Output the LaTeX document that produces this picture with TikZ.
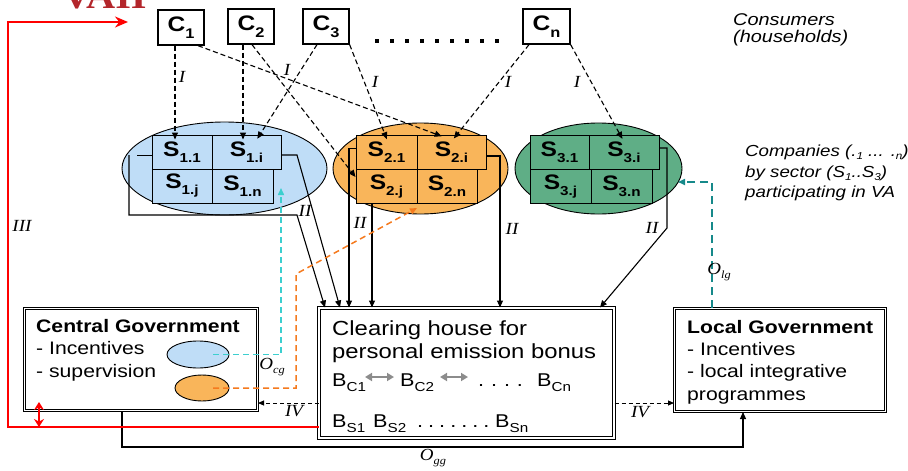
\documentclass[tikz,border=0pt]{standalone}
\usepackage{fontspec}
\setmainfont[FakeStretch=1.17]{Liberation Sans}
\newfontfamily\labelserif[FakeStretch=1.12]{Liberation Serif}
\usetikzlibrary{arrows.meta,calc,shapes.geometric}

\definecolor{sectorblue}{HTML}{BFDDF7}
\definecolor{sectororange}{HTML}{F9B55A}
\definecolor{sectorgreen}{HTML}{5FAE86}
\definecolor{linkcyan}{HTML}{3CCFCF}
\definecolor{linkorange}{HTML}{F57A1E}
\definecolor{linkteal}{HTML}{16898A}
\definecolor{headred}{HTML}{B3262B}
\definecolor{bonusgray}{HTML}{8C8C8C}

\newcommand\fs[1]{\fontsize{#1}{#1}\selectfont}
\newcommand\csub[1]{\raisebox{-7pt}{\fs{14}\bfseries #1}}
\newcommand\ssub[1]{\raisebox{-6pt}{\fs{13}\bfseries #1}}
\newcommand\bsub[1]{\raisebox{-5.5pt}{\fs{13}#1}}
\newcommand\osub[1]{\raisebox{-4pt}{\fs{11}#1}}
\newcommand\tsub[1]{\raisebox{-3pt}{\fs{10}#1}}

\tikzset{
  conbox/.style={draw, line width=1.3pt, minimum width=46pt, minimum height=35pt, inner sep=0pt, font=\fs{21}\bfseries},
  sectorcell/.style={draw, line width=1pt, minimum height=34pt, inner sep=0pt, font=\fs{21}\bfseries},
  sectorset/.style={ellipse, draw, line width=0.9pt, inner sep=0pt},
  govbox/.style={draw, line width=1pt, double, double distance=1.5pt, inner sep=0pt},
  txt/.style={inner sep=0pt, anchor=base west},
  numlbl/.style={inner sep=0pt, font=\labelserif\itshape\fs{17}},
  tipb/.style={-{Triangle[length=7pt,width=6pt]}},
  ilink/.style={tipb, line width=1.1pt, dash pattern=on 5pt off 3pt, shorten >=-5pt},
  solidflow/.style={tipb, line width=1.1pt},
  ivlink/.style={-{Triangle[length=6pt,width=5pt]}, line width=1pt, dash pattern=on 4pt off 3pt},
  bonusarrow/.style={bonusgray, line width=2.5pt, {Triangle[length=7pt,width=8pt]}-{Triangle[length=7pt,width=8pt]}},
}

\begin{document}
\begin{tikzpicture}[x=1pt,y=-1pt]
\useasboundingbox (0,0) rectangle (908,471);

% heading, mostly above the page
\node[txt, text=headred, font=\labelserif\bfseries\fs{36}] (heading) at (62,8.5) {VAII};

% consumers
\node[conbox] (c1) at (181,27.5) {C\csub{1}};
\node[conbox] (c2) at (251,26.5) {C\csub{2}};
\node[conbox] (c3) at (326,26.5) {C\csub{3}};
\node[conbox, minimum width=47pt] (cn) at (546.5,26.5) {C\csub{n}};
\coordinate (dotsL) at (375,41);
\coordinate (dotsR) at (500,41);
\draw[line width=3.5pt, dash pattern=on 3.5pt off 11.5pt] (dotsL) -- (dotsR);

\node[txt, font=\itshape\fs{17}] (cons1) at (733,25) {Consumers};
\node[txt, font=\itshape\fs{17}] (cons2) at (733,42) {(households)};

% sectors
\node[sectorset, fill=sectorblue, minimum width=205pt, minimum height=93pt] (set1) at (224.5,168.5) {};
\node[sectorset, fill=sectororange, minimum width=175pt, minimum height=91pt] (set2) at (420.5,168.5) {};
\node[sectorset, fill=sectorgreen, minimum width=167pt, minimum height=91pt] (set3) at (598.5,168.5) {};

\node[sectorcell, fill=sectorblue, minimum width=60pt] (s11) at (182,152) {S\ssub{1.1}};
\node[sectorcell, fill=sectorblue, minimum width=69pt] (s1i) at (246.5,152) {S\ssub{1.i}};
\node[sectorcell, fill=sectorblue, minimum width=60pt] (s1j) at (182,186) {S\ssub{1.j}};
\node[sectorcell, fill=sectorblue, minimum width=61pt] (s1n) at (242.5,186) {S\ssub{1.n}};

\node[sectorcell, fill=sectororange, minimum width=61pt] (s21) at (386.5,152) {S\ssub{2.1}};
\node[sectorcell, fill=sectororange, minimum width=69pt] (s2i) at (451.5,152) {S\ssub{2.i}};
\node[sectorcell, fill=sectororange, minimum width=61pt] (s2j) at (386.5,186.5) {S\ssub{2.j}};
\node[sectorcell, fill=sectororange, minimum width=60pt] (s2n) at (447,186.5) {S\ssub{2.n}};

\node[sectorcell, fill=sectorgreen, minimum width=59pt] (s31) at (559.5,152) {S\ssub{3.1}};
\node[sectorcell, fill=sectorgreen, minimum width=70pt] (s3i) at (624,152) {S\ssub{3.i}};
\node[sectorcell, fill=sectorgreen, minimum width=61pt] (s3j) at (560.5,186.5) {S\ssub{3.j}};
\node[sectorcell, fill=sectorgreen, minimum width=61pt] (s3n) at (621.5,186.5) {S\ssub{3.n}};

\node[txt, font=\itshape\fs{16}] (comp1) at (745,156) {Companies (.\tsub{1} ... .\tsub{n})};
\node[txt, font=\itshape\fs{16}] (comp2) at (745,177) {by sector (S\tsub{1}..S\tsub{3})};
\node[txt, font=\itshape\fs{16}] (comp3) at (745,197) {participating in VA};

% governments and clearing house
\node[govbox, minimum width=295pt, minimum height=130pt] (ch) at (466.5,373) {};
\node[govbox, minimum width=233pt, minimum height=102pt] (cg) at (141,359.5) {};
\node[govbox, minimum width=211pt, minimum height=103pt] (lg) at (780,360) {};

\node[txt, font=\fs{20.4}] (ch1) at (332,335) {Clearing house for};
\node[txt, font=\fs{20.4}] (ch2) at (332,358) {personal emission bonus};
\node[txt, font=\fs{18.5}] (bc1) at (332,386) {B\bsub{C1}};
\node[txt, font=\fs{18.5}] (bc2) at (400,386) {B\bsub{C2}};
\node[txt, font=\fs{18.5}] (bcdots) at (478,386) {.\hspace{6.9pt}.\hspace{6.9pt}.\hspace{6.9pt}.};
\node[txt, font=\fs{18.5}] (bcn) at (537,386) {B\bsub{Cn}};
\draw[bonusarrow] (365,377) -- (394,377);
\draw[bonusarrow] (440,377) -- (468,377);
\node[txt, font=\fs{18.5}] (bs1) at (332,427) {B\bsub{S1}};
\node[txt, font=\fs{18.5}] (bs2) at (373,427) {B\bsub{S2}};
\node[txt, font=\fs{18.5}] (bsdots) at (417,427) {.\hspace{5pt}.\hspace{5pt}.\hspace{5pt}.\hspace{5pt}.\hspace{5pt}.\hspace{5pt}.};
\node[txt, font=\fs{18.5}] (bsn) at (495,427) {B\bsub{Sn}};

\node[txt, font=\bfseries\fs{18.1}] (cg1) at (36,332) {Central Government};
\node[txt, font=\fs{18.1}] (cg2) at (36,354) {- Incentives};
\node[txt, font=\fs{18.1}] (cg3) at (36,377) {- supervision};
\node[sectorset, fill=sectorblue, minimum width=62pt, minimum height=27pt] (cgblue) at (198,354.5) {};
\node[sectorset, fill=sectororange, minimum width=54pt, minimum height=26pt] (cgorange) at (202,388) {};

\node[txt, font=\bfseries\fs{18.1}] (lg1) at (687,333) {Local Government};
\node[txt, font=\fs{18.1}] (lg2) at (687,355) {- Incentives};
\node[txt, font=\fs{18.1}] (lg3) at (687,377) {- local integrative};
\node[txt, font=\fs{18.1}] (lg4) at (687,400) {programmes};

% consumers to companies (I)
\draw[ilink] (175,0 |- c1.south) -- (175,0 |- s11.north);
\draw[ilink] (243,0 |- c2.south) -- (243,0 |- s1i.north);
\draw[ilink] (317,0 |- c3.south) -- (260,0 |- s1i.north);
\draw[ilink] (198,0 |- c1.south) -- (437,0 |- s2i.north);
\draw[ilink, shorten >=0pt] (252,0 |- c2.south) -- ($(s2j.north west)+(0,8)$);
\draw[ilink] (c3.south east) -- (385,0 |- s21.north);
\draw[ilink] (529,0 |- cn.south) -- (457,0 |- s2i.north);
\draw[ilink] (cn.south east) -- (620,0 |- s3i.north);
\node[numlbl] (i1) at (182,77) {I};
\node[numlbl] (i2) at (287,70) {I};
\node[numlbl] (i3) at (375,82) {I};
\node[numlbl] (i4) at (508,82) {I};
\node[numlbl] (i5) at (577,82) {I};

% companies to clearing house (II)
\coordinate (bLa) at (137,155);
\coordinate (bLb) at (129,155);
\coordinate (bLc) at (129,215);
\coordinate (bLd) at (297,215);
\coordinate (bRa) at (297,155);
\draw[line width=1pt] (bLa) -- (bLa -| s11.west);
\draw[solidflow] (bLb) -- (bLc) -- (bLd) -- (325,0 |- ch.north);
\draw[solidflow] (s1i.east |- bRa) -- (bRa) -- (340,0 |- ch.north);

\coordinate (oLa) at (349,148);
\coordinate (oRa) at (500,156);
\draw[line width=1pt] (oLa) -- (oLa -| s21.west);
\draw[solidflow] (oLa) -- (oLa |- ch.north);
\draw[solidflow] (372,0 |- s2j.south) -- (372,0 |- ch.north);
\draw[solidflow] (s2i.east |- oRa) -- (oRa) -- (oRa |- ch.north);

\coordinate (gRa) at (667,148);
\coordinate (gRb) at (667,228);
\draw[solidflow] (s3i.east |- gRa) -- (gRa) -- (gRb) -- (600,0 |- ch.north);

\node[numlbl] (ii1) at (305,211) {II};
\node[numlbl] (ii2) at (360,223) {II};
\node[numlbl] (ii3) at (512,229) {II};
\node[numlbl] (ii4) at (652,228) {II};

% government offers to the sectors
\coordinate (cyanbend) at (281,354.5);
\draw[linkcyan, line width=1.5pt, dash pattern=on 6pt off 4pt, tipb] ($(cgblue.center)+(15,0)$) -- (cyanbend) -- (cyanbend |- 0,188);
\coordinate (orangebend) at (296,388);
\coordinate (orangerise) at (296,274);
\draw[linkorange, line width=1.5pt, dash pattern=on 6pt off 4pt, tipb] ($(cgorange.center)+(11,0)$) -- (orangebend) -- (orangerise) -- (417,208);
\node[numlbl] (ocg) at (272,367) {O\osub{cg}};

\coordinate (tealbend) at (712,182);
\draw[linkteal, line width=1.6pt, dash pattern=on 8pt off 5pt, tipb] (tealbend |- lg.north) -- (tealbend) -- (678,182);
\node[numlbl] (olg) at (719,272) {O\osub{lg}};

% clearing house feedback (IV)
\draw[ivlink] (ch.west |- 0,403) -- (cg.east |- 0,403);
\draw[ivlink] (ch.east |- 0,403) -- (lg.west |- 0,403);
\node[numlbl] (iv1) at (294,411) {IV};
\node[numlbl] (iv2) at (640,412) {IV};

% central to local government
\coordinate (ggL) at (122,447);
\coordinate (ggR) at (743,447);
\draw[solidflow] (ggL |- cg.south) -- (ggL) -- (ggR) -- (ggR |- lg.south);
\node[numlbl] (ogg) at (433,458) {O\osub{gg}};

% return loop to the consumers (III)
\coordinate (redBL) at (8,427);
\coordinate (redTL) at (8,22);
\coordinate (redTR) at (128,22);
\draw[red, line width=2pt, -{Stealth[length=13pt,width=11pt]}] (ch.west |- redBL) -- (redBL) -- (redTL) -- (redTR);
\coordinate (dblTop) at (39,402);
\coordinate (dblBot) at (39,427);
\draw[red, line width=2pt, {Stealth[length=8pt,width=10pt]}-{Stealth[length=8pt,width=10pt]}] (dblTop) -- (dblBot);
\node[numlbl] (iii) at (22,226) {III};
\end{tikzpicture}
\end{document}
